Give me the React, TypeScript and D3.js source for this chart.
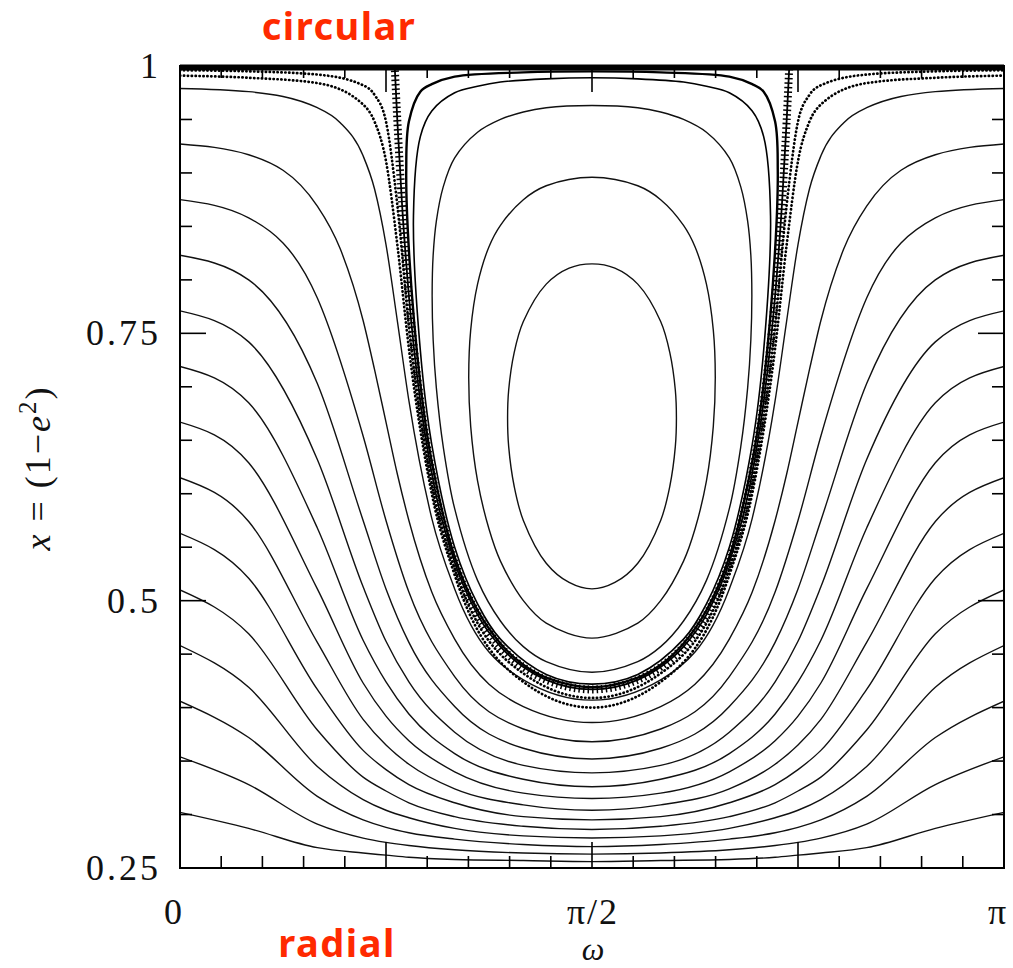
import * as d3 from 'd3';
import { useEffect, useRef } from 'react';

const W = 1013;
const H = 968;

// omega columns (degrees) where the curves were read
const OMEGA_FINE = [0, 15, 30, 35, 40, 42.5, 45, 47.5, 50, 55, 60, 75, 90, 105, 120, 125, 130, 132.5, 135, 137.5, 140, 145, 150, 165, 180];
const OMEGA_COARSE = [0, 15, 30, 40, 45, 50, 60, 75, 90, 105, 120, 130, 135, 140, 150, 165, 180];

// circulating orbits: x = 1 - e^2 at each column
const CIRC_0 = [0.979, 0.976, 0.961, 0.947, 0.916, 0.885, 0.833, 0.761, 0.687, 0.577, 0.511, 0.426, 0.407, 0.426, 0.511, 0.577, 0.687, 0.761, 0.833, 0.885, 0.916, 0.947, 0.961, 0.976, 0.979];
const CIRC_1 = [0.927, 0.917, 0.869, 0.829, 0.762, 0.716, 0.667, 0.618, 0.575, 0.508, 0.464, 0.401, 0.386, 0.401, 0.464, 0.508, 0.575, 0.618, 0.667, 0.716, 0.762, 0.829, 0.869, 0.917, 0.927];
const CIRC_2 = [0.875, 0.858, 0.783, 0.654, 0.575, 0.508, 0.429, 0.380, 0.368, 0.380, 0.429, 0.508, 0.575, 0.654, 0.783, 0.858, 0.875];
const CIRC_3 = [0.823, 0.800, 0.703, 0.575, 0.511, 0.461, 0.401, 0.362, 0.352, 0.362, 0.401, 0.461, 0.511, 0.575, 0.703, 0.800, 0.823];
const CIRC_4 = [0.771, 0.742, 0.632, 0.513, 0.462, 0.424, 0.377, 0.346, 0.339, 0.346, 0.377, 0.424, 0.462, 0.513, 0.632, 0.742, 0.771];
const CIRC_5 = [0.719, 0.685, 0.568, 0.463, 0.424, 0.394, 0.357, 0.333, 0.326, 0.333, 0.357, 0.394, 0.424, 0.463, 0.568, 0.685, 0.719];
const CIRC_6 = [0.667, 0.629, 0.511, 0.423, 0.392, 0.369, 0.340, 0.320, 0.315, 0.320, 0.340, 0.369, 0.392, 0.423, 0.511, 0.629, 0.667];
const CIRC_7 = [0.615, 0.574, 0.461, 0.389, 0.365, 0.347, 0.324, 0.309, 0.304, 0.309, 0.324, 0.347, 0.365, 0.389, 0.461, 0.574, 0.615];
const CIRC_8 = [0.563, 0.521, 0.417, 0.360, 0.342, 0.328, 0.311, 0.298, 0.295, 0.298, 0.311, 0.328, 0.342, 0.360, 0.417, 0.521, 0.563];
const CIRC_9 = [0.510, 0.469, 0.379, 0.335, 0.322, 0.311, 0.298, 0.289, 0.286, 0.289, 0.298, 0.311, 0.322, 0.335, 0.379, 0.469, 0.510];
const CIRC_10 = [0.458, 0.419, 0.345, 0.314, 0.304, 0.297, 0.287, 0.280, 0.278, 0.280, 0.287, 0.297, 0.304, 0.314, 0.345, 0.419, 0.458];
const CIRC_11 = [0.406, 0.372, 0.317, 0.295, 0.288, 0.283, 0.277, 0.272, 0.270, 0.272, 0.277, 0.283, 0.288, 0.295, 0.317, 0.372, 0.406];
const CIRC_12 = [0.354, 0.328, 0.291, 0.278, 0.274, 0.271, 0.267, 0.264, 0.263, 0.264, 0.267, 0.271, 0.274, 0.278, 0.291, 0.328, 0.354];
const CIRC_13 = [0.302, 0.287, 0.269, 0.264, 0.262, 0.260, 0.258, 0.257, 0.256, 0.257, 0.258, 0.260, 0.262, 0.264, 0.269, 0.287, 0.302];

// librating orbits, closed loops of [omega, x]
const LIB_A: [number, number][] = [[55.08, 0.786], [55.3, 0.823], [56, 0.855], [57.5, 0.887], [60, 0.914], [65, 0.938], [70, 0.950], [75, 0.957], [80, 0.961], [90, 0.963], [100, 0.961], [105, 0.957], [110, 0.950], [115, 0.938], [120, 0.914], [122.5, 0.887], [124, 0.855], [124.7, 0.823], [124.92, 0.786], [124.7, 0.744], [124, 0.699], [122.5, 0.644], [120, 0.586], [115, 0.519], [110, 0.481], [105, 0.457], [100, 0.443], [90, 0.433], [80, 0.443], [75, 0.457], [70, 0.481], [65, 0.519], [60, 0.586], [57.5, 0.644], [56, 0.699], [55.3, 0.744]];
const LIB_B: [number, number][] = [[63.07, 0.709], [63.5, 0.753], [65, 0.796], [67.5, 0.831], [70, 0.851], [75, 0.875], [80, 0.888], [90, 0.896], [100, 0.888], [105, 0.875], [110, 0.851], [112.5, 0.831], [115, 0.796], [116.5, 0.753], [116.93, 0.709], [116.5, 0.663], [115, 0.612], [112.5, 0.567], [110, 0.537], [105, 0.500], [100, 0.479], [90, 0.465], [80, 0.479], [75, 0.500], [70, 0.537], [67.5, 0.567], [65, 0.612], [63.5, 0.663]];
const LIB_C: [number, number][] = [[71.56, 0.671], [71.8, 0.697], [73, 0.732], [75, 0.761], [80, 0.796], [85, 0.811], [90, 0.815], [95, 0.811], [100, 0.796], [105, 0.761], [107, 0.732], [108.2, 0.697], [108.44, 0.671], [108.2, 0.644], [107, 0.607], [105, 0.575], [100, 0.535], [95, 0.517], [90, 0.511], [85, 0.517], [80, 0.535], [75, 0.575], [73, 0.607], [71.8, 0.644]];

// librating orbits just inside the separatrix (plotted points, heavy)
const NEAR_SEP_1: [number, number][] = [[49.42, 0.903], [50, 0.948], [52.5, 0.976], [55, 0.983], [60, 0.990], [75, 0.994], [90, 0.995], [105, 0.994], [120, 0.990], [125, 0.983], [127.5, 0.976], [130, 0.948], [130.58, 0.903], [130, 0.828], [127.5, 0.703], [125, 0.630], [120, 0.541], [115, 0.491], [110, 0.460], [105, 0.440], [100, 0.428], [90, 0.419], [80, 0.428], [75, 0.440], [70, 0.460], [65, 0.491], [60, 0.541], [55, 0.630], [52.5, 0.703], [50, 0.828]];
const NEAR_SEP_2: [number, number][] = [[51.0, 0.860], [52.5, 0.934], [55, 0.958], [60, 0.975], [65, 0.981], [70, 0.985], [80, 0.988], [90, 0.989], [100, 0.988], [110, 0.985], [115, 0.981], [120, 0.975], [125, 0.958], [127.5, 0.934], [129.0, 0.860], [127.5, 0.734], [125, 0.646], [120, 0.550], [115, 0.497], [110, 0.464], [100, 0.431], [90, 0.422], [80, 0.431], [70, 0.464], [65, 0.497], [60, 0.550], [55, 0.646], [52.5, 0.734]];

// separatrix, lower branch
const SEPARATRIX: [number, number][] = [[46.9, 1.0], [47.5, 0.947], [48.5, 0.871], [50, 0.785], [52.5, 0.686], [55, 0.619], [60, 0.536], [65, 0.487], [70, 0.457], [75, 0.438], [80, 0.426], [90, 0.417], [100, 0.426], [105, 0.438], [110, 0.457], [115, 0.487], [120, 0.536], [125, 0.619], [127.5, 0.686], [130, 0.785], [131.5, 0.871], [132.5, 0.947], [133.1, 1.0]];

// dotted numerical orbits hugging the separatrix from outside
const DOTS_1: [number, number][] = [[0, 0.996], [15, 0.995], [30, 0.992], [40, 0.982], [42.5, 0.973], [45, 0.948], [47.5, 0.869], [50, 0.757], [55, 0.609], [60, 0.530], [75, 0.432], [90, 0.409], [105, 0.432], [120, 0.530], [125, 0.609], [130, 0.757], [132.5, 0.869], [135, 0.948], [137.5, 0.973], [140, 0.982], [150, 0.992], [165, 0.995], [180, 0.996]];
const DOTS_2: [number, number][] = [[0, 0.991], [15, 0.989], [30, 0.984], [40, 0.964], [42.5, 0.948], [45, 0.911], [47.5, 0.832], [50, 0.736], [55, 0.600], [60, 0.524], [75, 0.424], [90, 0.400], [105, 0.424], [120, 0.524], [125, 0.600], [130, 0.736], [132.5, 0.832], [135, 0.911], [137.5, 0.948], [140, 0.964], [150, 0.984], [165, 0.989], [180, 0.991]];

const Y_TICK_VALUES = [0.25, 0.5, 0.75, 1];
const Y_TICK_LABELS = ['0.25', '0.5', '0.75', '1'];
const X_MAJOR = [0, 45, 90, 135, 180];
const X_LABEL_VALUES = [0, 90, 180];
const X_LABELS = ['0', 'π/2', 'π'];

function App() {
  const svgRef = useRef<SVGSVGElement>(null);

  useEffect(() => {
    const svg = d3.select(svgRef.current);
    svg.selectAll('*').remove();

    const margin = { top: 66, right: 9, bottom: 100, left: 180 };
    const x = d3.scaleLinear().domain([0, 180]).range([margin.left, W - margin.right]);
    const y = d3.scaleLinear().domain([0.25, 1]).range([H - margin.bottom, margin.top]);

    svg.append('rect').attr('width', W).attr('height', H).attr('fill', '#fff');

    svg.append('clipPath').attr('id', 'plot-clip')
      .append('rect')
      .attr('x', margin.left).attr('y', margin.top - 4)
      .attr('width', x(180) - x(0)).attr('height', y(0.25) - y(1) + 4);

    const g = svg.append('g').attr('clip-path', 'url(#plot-clip)');

    const colLine = (omegas: number[]) => d3.line<number>()
      .x((_, i) => x(omegas[i]))
      .y(d => y(d))
      .curve(d3.curveMonotoneX);
    const pairLine = d3.line<[number, number]>().x(d => x(d[0])).y(d => y(d[1])).curve(d3.curveMonotoneX);
    const loop = d3.line<[number, number]>().x(d => x(d[0])).y(d => y(d[1])).curve(d3.curveCatmullRomClosed.alpha(0.5));

    const ink = '#111';
    const thinW = 1.4;

    [CIRC_0, CIRC_1].forEach(c => {
      g.append('path').attr('d', colLine(OMEGA_FINE)(c))
        .attr('fill', 'none').attr('stroke', ink).attr('stroke-width', thinW);
    });
    [CIRC_2, CIRC_3, CIRC_4, CIRC_5, CIRC_6, CIRC_7, CIRC_8, CIRC_9, CIRC_10, CIRC_11, CIRC_12, CIRC_13].forEach(c => {
      g.append('path').attr('d', colLine(OMEGA_COARSE)(c))
        .attr('fill', 'none').attr('stroke', ink).attr('stroke-width', thinW);
    });

    [LIB_A, LIB_B, LIB_C].forEach(l => {
      g.append('path').attr('d', loop(l))
        .attr('fill', 'none').attr('stroke', ink).attr('stroke-width', thinW);
    });

    // circular orbits, x = 1
    g.append('line')
      .attr('x1', x(0)).attr('x2', x(180))
      .attr('y1', y(1) + 1.5).attr('y2', y(1) + 1.5)
      .attr('stroke', '#000').attr('stroke-width', 6);

    // heavy librating orbits near the separatrix
    g.append('path').attr('d', loop(NEAR_SEP_1))
      .attr('fill', 'none').attr('stroke', '#000').attr('stroke-width', 2.4);
    g.append('path').attr('d', loop(NEAR_SEP_2))
      .attr('fill', 'none').attr('stroke', '#000').attr('stroke-width', 1.6);

    // dotted orbits
    [DOTS_1, DOTS_2].forEach(dd => {
      g.append('path').attr('d', pairLine(dd))
        .attr('fill', 'none').attr('stroke', '#000').attr('stroke-width', 2.7)
        .attr('stroke-linecap', 'round').attr('stroke-dasharray', '0.3 3.6');
    });

    // separatrix with cross markers
    g.append('path').attr('d', pairLine(SEPARATRIX))
      .attr('fill', 'none').attr('stroke', '#000').attr('stroke-width', 1.8);
    g.append('path').attr('d', pairLine(SEPARATRIX))
      .attr('fill', 'none').attr('stroke', '#000').attr('stroke-width', 8)
      .attr('stroke-dasharray', '1.5 3');

    // frame
    svg.append('rect')
      .attr('x', x(0)).attr('y', y(1))
      .attr('width', x(180) - x(0)).attr('height', y(0.25) - y(1))
      .attr('fill', 'none').attr('stroke', '#000').attr('stroke-width', 2);

    const ticks = svg.append('g').attr('stroke', '#000').attr('stroke-width', 1.6);
    y.ticks(15).forEach(v => {
      const len = Y_TICK_VALUES.some(m => Math.abs(m - v) < 1e-6) ? 26 : 12;
      ticks.append('line').attr('x1', x(0)).attr('x2', x(0) + len).attr('y1', y(v)).attr('y2', y(v));
      ticks.append('line').attr('x1', x(180)).attr('x2', x(180) - len).attr('y1', y(v)).attr('y2', y(v));
    });
    d3.range(0, 181, 9).forEach(v => {
      const len = X_MAJOR.includes(v) ? 26 : 12;
      ticks.append('line').attr('x1', x(v)).attr('x2', x(v)).attr('y1', y(0.25)).attr('y2', y(0.25) - len);
      ticks.append('line').attr('x1', x(v)).attr('x2', x(v)).attr('y1', y(1)).attr('y2', y(1) + len);
    });

    const serif = '"Liberation Serif", "DejaVu Serif", serif';

    Y_TICK_VALUES.forEach((v, i) => {
      svg.append('text')
        .attr('x', 161).attr('y', y(v) + 12)
        .attr('text-anchor', 'end')
        .attr('font-family', serif).attr('font-size', 36)
        .attr('letter-spacing', 3).attr('fill', ink)
        .text(Y_TICK_LABELS[i]);
    });

    X_LABEL_VALUES.forEach((v, i) => {
      const mid = v === 90;
      svg.append('text')
        .attr('x', x(v) + (mid ? 1 : -7)).attr('y', 924)
        .attr('text-anchor', 'middle')
        .attr('font-family', serif).attr('font-size', 36)
        .attr('letter-spacing', mid ? 2 : 0).attr('fill', ink)
        .text(X_LABELS[i]);
    });

    svg.append('text')
      .attr('x', 593).attr('y', 960)
      .attr('text-anchor', 'middle')
      .attr('font-family', serif).attr('font-style', 'italic').attr('font-size', 32)
      .attr('fill', ink)
      .text('ω');

    const yt = svg.append('text')
      .attr('transform', 'translate(50,468) rotate(-90)')
      .attr('text-anchor', 'middle')
      .attr('font-family', serif).attr('font-size', 36)
      .attr('letter-spacing', 2).attr('fill', ink);
    yt.append('tspan').attr('font-style', 'italic').text('x');
    yt.append('tspan').text(' = (1−');
    yt.append('tspan').attr('font-style', 'italic').text('e');
    yt.append('tspan').attr('dy', -14).attr('font-size', 25).text('2');
    yt.append('tspan').attr('dy', 14).text(')');

    const red = '#ff2a00';
    svg.append('text')
      .attr('x', 339).attr('y', 40)
      .attr('text-anchor', 'middle')
      .attr('font-family', '"Noto Sans", "Open Sans", sans-serif')
      .attr('font-weight', 'bold').attr('font-size', 38)
      .attr('letter-spacing', 1.5).attr('fill', red)
      .text('circular');
    svg.append('text')
      .attr('x', 337).attr('y', 957)
      .attr('text-anchor', 'middle')
      .attr('font-family', '"Noto Sans", "Open Sans", sans-serif')
      .attr('font-weight', 'bold').attr('font-size', 38)
      .attr('letter-spacing', 1.5).attr('fill', red)
      .text('radial');
  }, []);

  return (
    <svg
      ref={svgRef}
      width={W}
      height={H}
      style={{ position: 'absolute', left: 0, top: 0, display: 'block' }}
    />
  );
}

export default App;
